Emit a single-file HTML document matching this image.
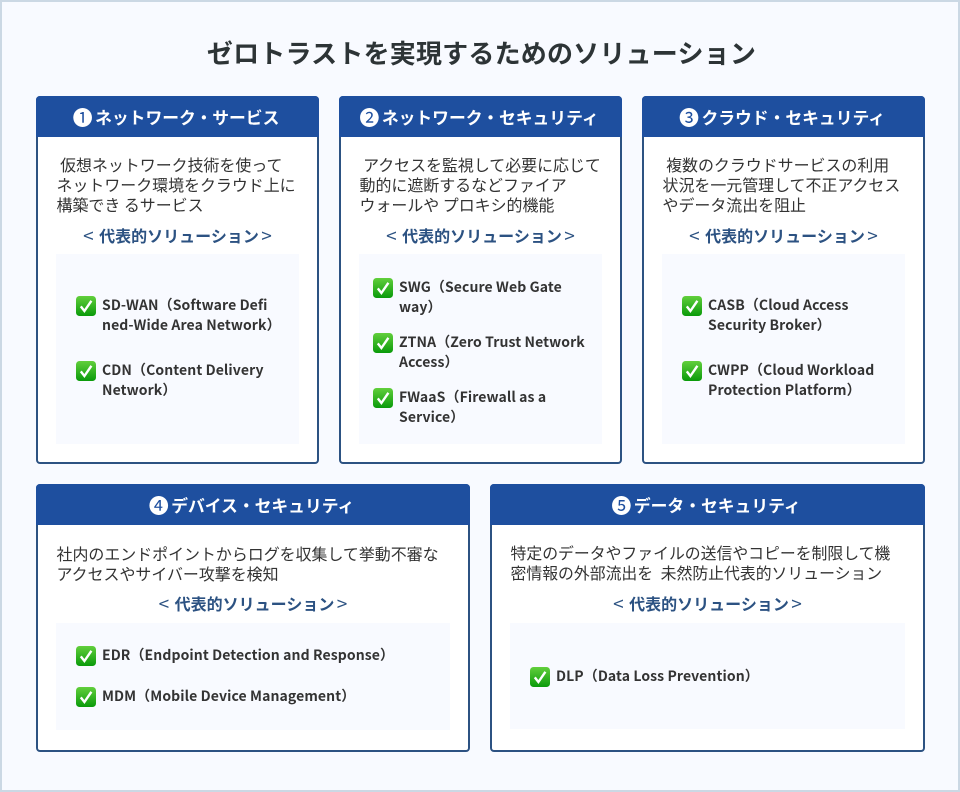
<!DOCTYPE html>
<html lang="ja"><head><meta charset="utf-8">
<style>
*{box-sizing:border-box;margin:0;padding:0}
html,body{width:960px;height:792px;overflow:hidden}
body{position:relative;background:#f8faff;font-family:"Noto Sans CJK JP","Liberation Sans",sans-serif;color:#333}
#frame{position:absolute;left:0;top:0;width:960px;height:792px;border:2px solid #cbd8e4;background:#f8faff}
h1{position:absolute;left:0;top:35px;width:963px;text-align:center;font-size:26px;line-height:36px;letter-spacing:.2px;font-weight:700;color:#2d3436;white-space:nowrap}
.card{position:absolute;background:#fff;border:2px solid #2c5282;border-radius:4px}
.hd{position:absolute;left:-2px;right:-2px;top:-2px;height:41px;padding-right:3px;background:#1e4f9f;border-radius:4px 4px 0 0;color:#fff;font-weight:700;font-size:16.8px;letter-spacing:0;line-height:42px;text-align:center;white-space:nowrap}
.hd b{font-size:20px;font-weight:400;line-height:20px;vertical-align:-1px;margin-right:2.5px}
.desc{position:absolute;left:18.5px;top:56.5px;font-size:15.95px;line-height:20px;letter-spacing:0;color:#333;white-space:pre}
.sub{position:absolute;left:0;right:0;text-align:center;font-size:16px;line-height:22px;letter-spacing:0;font-weight:700;color:#2c5282;white-space:pre}
.sub i{position:relative;top:2px;font-style:normal;font-weight:400;font-size:19px;line-height:20px;display:inline-block;vertical-align:top}
.sub i.l{width:16px;text-align:left}
.sub i.r{width:13px;text-align:right}
.box{position:absolute;background:#f8faff}
.it{position:absolute;font-size:14px;line-height:20px;letter-spacing:.1px;font-weight:700;color:#333;white-space:pre}
svg.c{position:absolute;width:20px;height:20px}
</style></head><body>
<svg width="0" height="0" style="position:absolute"><defs>
<linearGradient id="g" x1="0" y1="0" x2="0" y2="1"><stop offset="0" stop-color="#62cf3c"/><stop offset="1" stop-color="#0a9a0a"/></linearGradient>
<symbol id="k" viewBox="0 0 20 20"><rect width="20" height="20" rx="3.5" fill="url(#g)"/><path d="M4.8 10.4 8.4 15 15.4 4.8" fill="none" stroke="#fff" stroke-width="2.4"/></symbol>
</defs></svg>
<div id="frame"></div>
<h1>ゼロトラストを実現するためのソリューション</h1>

<div class="card" style="left:36px;top:96px;width:283px;height:368px">
<div class="hd"><b>❶</b>ネットワーク・サービス</div>
<div class="desc" style="top:55.5px"> 仮想ネットワーク技術を使って
ネットワーク環境をクラウド上に
構築でき るサービス</div>
<div class="sub" style="top:126px"><i class="l">&lt;</i>代表的ソリューション<i class="r">&gt;</i></div>
<div class="box" style="left:18px;top:156px;width:243px;height:190px"></div>
<svg class="c" style="left:38px;top:198px"><use href="#k"/></svg>
<div class="it" style="left:64px;top:197px">SD-WAN（Software Defi
ned-Wide Area Network）</div>
<svg class="c" style="left:38px;top:263px"><use href="#k"/></svg>
<div class="it" style="left:64px;top:262px">CDN（Content Delivery
Network）</div>
</div>

<div class="card" style="left:339px;top:96px;width:283px;height:368px">
<div class="hd"><b>❷</b>ネットワーク・セキュリティ</div>
<div class="desc" style="top:55.5px"> アクセスを監視して必要に応じて
動的に遮断するなどファイア
ウォールや プロキシ的機能</div>
<div class="sub" style="top:126px"><i class="l">&lt;</i>代表的ソリューション<i class="r">&gt;</i></div>
<div class="box" style="left:18px;top:156px;width:243px;height:190px"></div>
<svg class="c" style="left:32px;top:180px"><use href="#k"/></svg>
<div class="it" style="left:58px;top:179px">SWG（Secure Web Gate
way）</div>
<svg class="c" style="left:32px;top:235px"><use href="#k"/></svg>
<div class="it" style="left:58px;top:234px">ZTNA（Zero Trust Network
Access）</div>
<svg class="c" style="left:32px;top:290px"><use href="#k"/></svg>
<div class="it" style="left:58px;top:289px">FWaaS（Firewall as a
Service）</div>
</div>

<div class="card" style="left:642px;top:96px;width:283px;height:368px">
<div class="hd"><b>❸</b>クラウド・セキュリティ</div>
<div class="desc" style="top:55.5px"> 複数のクラウドサービスの利用
状況を一元管理して不正アクセス
やデータ流出を阻止</div>
<div class="sub" style="top:126px"><i class="l">&lt;</i>代表的ソリューション<i class="r">&gt;</i></div>
<div class="box" style="left:18px;top:156px;width:243px;height:190px"></div>
<svg class="c" style="left:38px;top:198px"><use href="#k"/></svg>
<div class="it" style="left:64px;top:197px">CASB（Cloud Access
Security Broker）</div>
<svg class="c" style="left:38px;top:263px"><use href="#k"/></svg>
<div class="it" style="left:64px;top:262px">CWPP（Cloud Workload
Protection Platform）</div>
</div>

<div class="card" style="left:36px;top:484px;width:434px;height:268px">
<div class="hd"><b>❹</b>デバイス・セキュリティ</div>
<div class="desc">社内のエンドポイントからログを収集して挙動不審な
アクセスやサイバー攻撃を検知</div>
<div class="sub" style="top:106px"><i class="l">&lt;</i>代表的ソリューション<i class="r">&gt;</i></div>
<div class="box" style="left:18px;top:137px;width:394px;height:107px"></div>
<svg class="c" style="left:38px;top:160px"><use href="#k"/></svg>
<div class="it" style="left:64px;top:159px">EDR（Endpoint Detection and Response）</div>
<svg class="c" style="left:38px;top:201px"><use href="#k"/></svg>
<div class="it" style="left:64px;top:200px">MDM（Mobile Device Management）</div>
</div>

<div class="card" style="left:490px;top:484px;width:435px;height:268px">
<div class="hd"><b>❺</b>データ・セキュリティ</div>
<div class="desc" style="font-size:15.85px;word-spacing:4px">特定のデータやファイルの送信やコピーを制限して機
密情報の外部流出を 未然防止代表的ソリューション</div>
<div class="sub" style="top:106px"><i class="l">&lt;</i>代表的ソリューション<i class="r">&gt;</i></div>
<div class="box" style="left:18px;top:137px;width:395px;height:106px"></div>
<svg class="c" style="left:38px;top:181px"><use href="#k"/></svg>
<div class="it" style="left:64px;top:180px">DLP（Data Loss Prevention）</div>
</div>
</body></html>
